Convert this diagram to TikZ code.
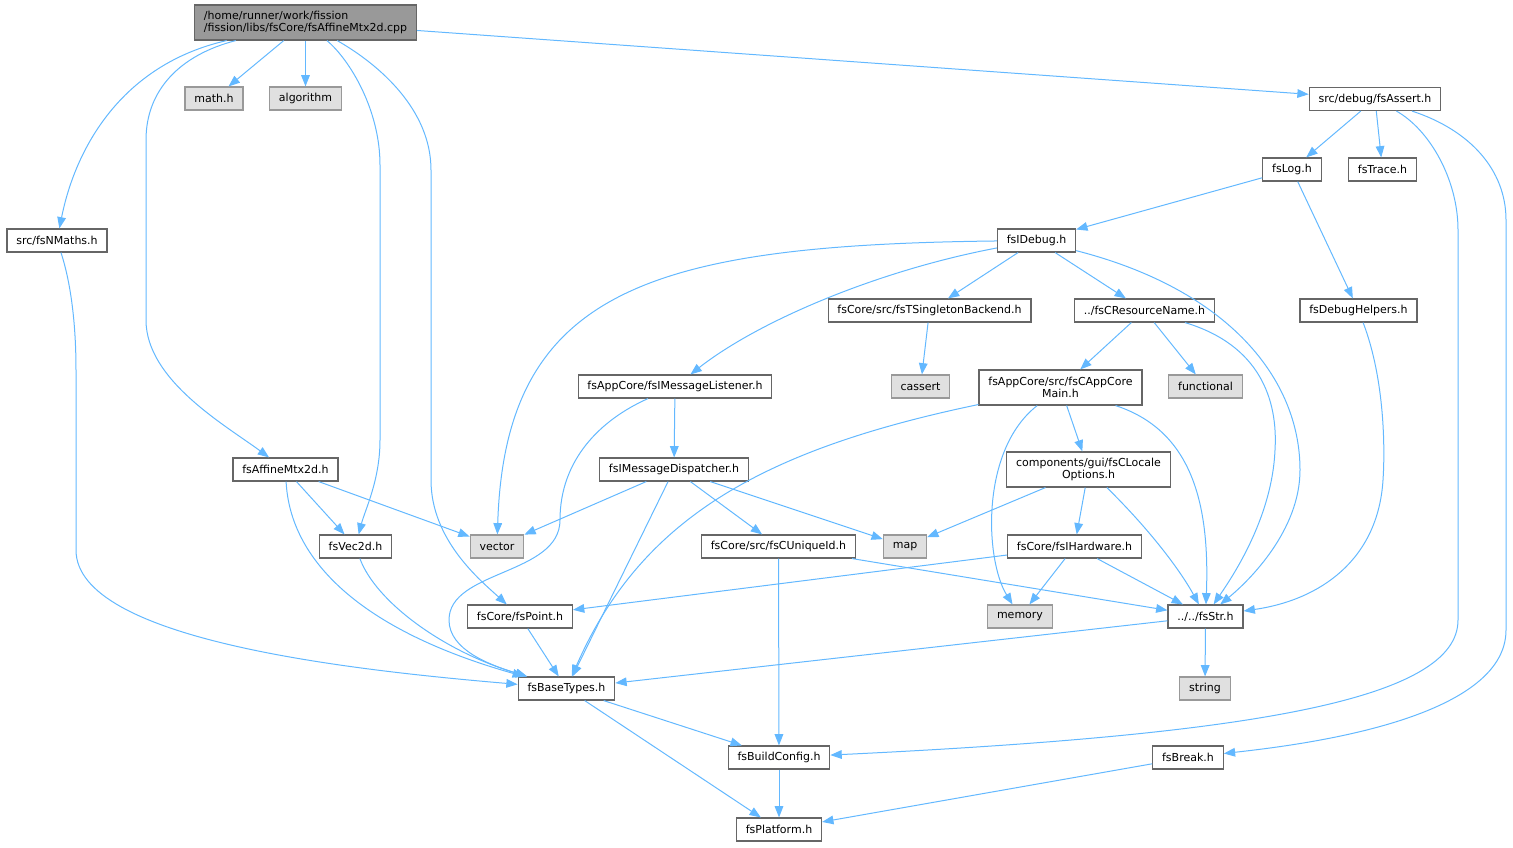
\documentclass[tikz,border=0pt]{standalone}
\usepackage{fontspec}
\setmainfont{DejaVu Sans}
\usetikzlibrary{arrows.meta}
\definecolor{edgeblue}{HTML}{63B8FF}
\definecolor{boxline}{HTML}{666666}
\definecolor{sysline}{HTML}{999999}
\definecolor{sysfill}{HTML}{E0E0E0}
\definecolor{rootfill}{HTML}{999999}

\begin{document}
\begin{tikzpicture}
      [%%%%%%%%%%%%%%%%%%%%%%%%%%%%%%
      x=0.75pt,y=-0.75pt,
      box/.style={rectangle,draw=boxline,line width=0.85pt,fill=white,minimum height=17.25pt,
        inner xsep=7pt,inner ysep=2pt,font=\fontsize{8.25}{9}\selectfont},
      sysbox/.style={box,draw=sysline,fill=sysfill},
      rootbox/.style={box,fill=rootfill},
      twoline/.style={align=center,minimum height=26.25pt},
      dep/.style={draw=edgeblue,line width=0.75pt,-{Triangle[length=8.5pt,width=6.5pt]}},
      ]%%%%%%%%%%%%%%%%%%%%%%%%%%%%%%

      \useasboundingbox (0,0) rectangle (1513,847);

      \node[rootbox,twoline,align=left] (main) at (305.5,22.5) {/home/runner/work/fission\\/fission/libs/fsCore/fsAffineMtx2d.cpp};
      \node[sysbox] (mathh) at (214,98.5) {math.h};
      \node[sysbox] (algorithm) at (305.5,98.5) {algorithm};
      \node[box] (assert) at (1375,99) {src/debug/fsAssert.h};
      \node[box] (nmaths) at (57,240.5) {src/fsNMaths.h};
      \node[box] (log) at (1292,169.5) {fsLog.h};
      \node[box] (trace) at (1382.5,169.5) {fsTrace.h};
      \node[box] (idebug) at (1036.5,240.5) {fsIDebug.h};
      \node[box] (singleton) at (929.5,310.5) {fsCore/src/fsTSingletonBackend.h};
      \node[box] (resname) at (1144.5,310.5) {../fsCResourceName.h};
      \node[box] (dbghelpers) at (1358.5,310.5) {fsDebugHelpers.h};
      \node[sysbox] (cassert) at (920.5,386.5) {cassert};
      \node[sysbox] (functional) at (1205.5,386.5) {functional};
      \node[box] (listener) at (675,386.5) {fsAppCore/fsIMessageListener.h};
      \node[box,twoline] (appmain) at (1060.5,387.5) {fsAppCore/src/fsCAppCore\\Main.h};
      \node[box] (affine) at (285.5,469.5) {fsAffineMtx2d.h};
      \node[box] (dispatcher) at (674,469.5) {fsIMessageDispatcher.h};
      \node[box,twoline] (locale) at (1088.5,469.5) {components/gui/fsCLocale\\Options.h};
      \node[sysbox] (vector) at (497,546.5) {vector};
      \node[box] (vec2d) at (355.5,546.5) {fsVec2d.h};
      \node[box] (uniqueid) at (778.5,546.5) {fsCore/src/fsCUniqueId.h};
      \node[sysbox] (map) at (905,546.5) {map};
      \node[box] (hardware) at (1074.5,546.5) {fsCore/fsIHardware.h};
      \node[box] (point) at (520,616.5) {fsCore/fsPoint.h};
      \node[sysbox] (memory) at (1020,616.5) {memory};
      \node[box] (str) at (1205.5,616.5) {../../fsStr.h};
      \node[box] (basetypes) at (566.5,688.5) {fsBaseTypes.h};
      \node[sysbox] (string) at (1205,688.5) {string};
      \node[box] (buildconfig) at (779,757.5) {fsBuildConfig.h};
      \node[box] (break) at (1188,757.5) {fsBreak.h};
      \node[box] (platform) at (779,829.5) {fsPlatform.h};

      \draw[dep] (main) .. controls (120,65) and (75,150) .. (nmaths);
      \draw[dep] (main) .. controls (180,55) and (146,90) .. (146,140) -- (146,320)
        .. controls (146,380) and (225,425) .. (affine);
      \draw[dep] (main) -- (mathh);
      \draw[dep] (main) -- (algorithm);
      \draw[dep] (main) .. controls (350,60) and (380,110) .. (380,165) -- (380,440)
        .. controls (380,480) and (365,510) .. (vec2d);
      \draw[dep] (main) .. controls (380,65) and (431,110) .. (431,170) -- (431,480)
        .. controls (431,540) and (480,580) .. (point);
      \draw[dep] (main) -- (assert);
      \draw[dep] (nmaths) .. controls (70,280) and (76,320) .. (76,370) -- (76,550)
        .. controls (76,640) and (350,670) .. (basetypes);
      \draw[dep] (affine) -- (vector);
      \draw[dep] (affine) -- (vec2d);
      \draw[dep] (affine) .. controls (290,560) and (360,630) .. (basetypes);
      \draw[dep] (vec2d) .. controls (375,600) and (440,650) .. (basetypes);
      \draw[dep] (point) -- (basetypes);
      \draw[dep] (assert) -- (log);
      \draw[dep] (assert) -- (trace);
      \draw[dep] (assert) .. controls (1430,130) and (1458,180) .. (1458,230) -- (1458,620)
        .. controls (1458,700) and (1250,735) .. (buildconfig);
      \draw[dep] (assert) .. controls (1470,130) and (1506,170) .. (1506,220) -- (1506,630)
        .. controls (1506,720) and (1300,745) .. (break);
      \draw[dep] (log) -- (idebug);
      \draw[dep] (log) -- (dbghelpers);
      \draw[dep] (dbghelpers) .. controls (1385,380) and (1385,450) .. (1383,480)
        .. controls (1378,560) and (1320,600) .. (str);
      \draw[dep] (idebug) .. controls (650,245) and (505,290) .. (vector);
      \draw[dep] (idebug) .. controls (880,270) and (760,320) .. (listener);
      \draw[dep] (idebug) -- (singleton);
      \draw[dep] (idebug) -- (resname);
      \draw[dep] (idebug) .. controls (1230,290) and (1300,380) .. (1300,470)
        .. controls (1300,530) and (1250,580) .. (str);
      \draw[dep] (singleton) -- (cassert);
      \draw[dep] (resname) -- (appmain);
      \draw[dep] (resname) -- (functional);
      \draw[dep] (resname) .. controls (1260,345) and (1278,400) .. (1275,450)
        .. controls (1272,520) and (1230,580) .. (str);
      \draw[dep] (listener) -- (dispatcher);
      \draw[dep] (listener) .. controls (600,420) and (560,460) .. (560,520)
        .. controls (560,575) and (449,570) .. (449,620)
        .. controls (449,650) and (490,665) .. (basetypes);
      \draw[dep] (appmain) .. controls (760,450) and (640,520) .. (basetypes);
      \draw[dep] (appmain) .. controls (980,450) and (985,560) .. (memory);
      \draw[dep] (appmain) -- (locale);
      \draw[dep] (appmain) .. controls (1190,430) and (1210,500) .. (str);
      \draw[dep] (dispatcher) -- (vector);
      \draw[dep] (dispatcher) -- (basetypes);
      \draw[dep] (dispatcher) -- (uniqueid);
      \draw[dep] (dispatcher) -- (map);
      \draw[dep] (locale) -- (map);
      \draw[dep] (locale) -- (hardware);
      \draw[dep] (locale) .. controls (1150,530) and (1180,570) .. (str);
      \draw[dep] (uniqueid) -- (buildconfig);
      \draw[dep] (uniqueid) -- (str);
      \draw[dep] (hardware) -- (point);
      \draw[dep] (hardware) -- (memory);
      \draw[dep] (hardware) -- (str);
      \draw[dep] (str) -- (basetypes);
      \draw[dep] (str) -- (string);
      \draw[dep] (basetypes) -- (buildconfig);
      \draw[dep] (basetypes) -- (platform);
      \draw[dep] (buildconfig) -- (platform);
      \draw[dep] (break) -- (platform);
    \end{tikzpicture}
\end{document}
